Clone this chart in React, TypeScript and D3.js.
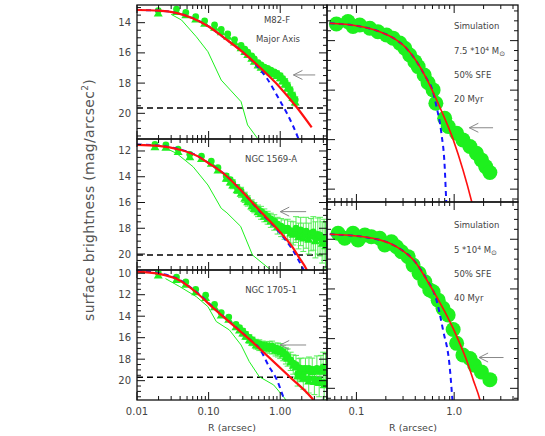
import * as d3 from 'd3';

type P = [number, number];
type PE = [number, number, number];

// ---- observed clusters: R (arcsec), mag/arcsec^2, error ----
const m82Pts: PE[] = [
  [0.0198, 13.3, 0], [0.0356, 13.2, 0], [0.048, 13.42, 0], [0.066, 13.7, 0], [0.088, 13.98, 0],
  [0.121, 14.25, 0.05], [0.15, 14.55, 0.05], [0.185, 14.85, 0.05], [0.23, 15.22, 0.08], [0.284, 15.6, 0.1],
  [0.32, 15.85, 0.1], [0.352, 16.05, 0.12], [0.4, 16.3, 0.12], [0.435, 16.5, 0.15], [0.49, 16.75, 0.15],
  [0.54, 16.9, 0.15], [0.6, 17.05, 0.2], [0.667, 17.13, 0.2], [0.74, 17.25, 0.2], [0.826, 17.35, 0.2],
  [0.9, 17.45, 0.25], [1.0, 17.6, 0.25], [1.08, 17.8, 0.25], [1.17, 18.0, 0.3], [1.27, 18.25, 0.3],
  [1.38, 18.55, 0.3], [1.5, 18.9, 0.3], [1.62, 19.2, 0.3],
];
const n1569Pts: PE[] = [
  [0.0178, 11.6, 0.05], [0.0253, 11.65, 0.05], [0.0375, 11.98, 0.05], [0.0546, 12.38, 0.08], [0.0795, 12.52, 0.1],
  [0.109, 12.9, 0.12], [0.135, 13.42, 0.2], [0.176, 14.05, 0.3], [0.2, 14.35, 0.3], [0.217, 14.58, 0.35],
  [0.25, 14.95, 0.35], [0.284, 15.22, 0.4], [0.32, 15.6, 0.4], [0.352, 15.88, 0.4], [0.4, 16.2, 0.4],
  [0.435, 16.4, 0.4], [0.49, 16.65, 0.45], [0.54, 16.8, 0.5], [0.6, 17.0, 0.5], [0.667, 17.18, 0.5],
  [0.74, 17.38, 0.55], [0.826, 17.55, 0.6], [0.92, 17.8, 0.65], [1.03, 17.95, 0.7], [1.15, 18.1, 0.75],
  [1.27, 18.1, 0.8], [1.4, 18.3, 0.85], [1.52, 18.4, 0.9], [1.66, 18.1, 1.0], [1.8, 18.6, 1.0],
  [1.93, 18.25, 1.1], [2.1, 18.7, 1.1], [2.3, 18.35, 1.2], [2.5, 18.8, 1.2], [2.7, 18.5, 1.25],
  [2.9, 18.4, 1.3], [3.1, 18.9, 1.4], [3.35, 18.6, 1.4], [3.6, 18.65, 1.5], [3.85, 19.1, 1.6],
  [4.1, 18.9, 1.6], [4.3, 19.3, 1.8],
];
const n1705Pts: PE[] = [
  [0.0198, 10.1, 0.05], [0.0356, 10.5, 0.05], [0.048, 10.95, 0.05], [0.066, 11.65, 0.08], [0.0909, 12.18, 0.1],
  [0.121, 13.05, 0.15], [0.15, 13.82, 0.2], [0.191, 14.22, 0.25], [0.241, 14.9, 0.3], [0.27, 15.2, 0.3],
  [0.3, 15.5, 0.35], [0.33, 15.8, 0.35], [0.37, 16.12, 0.4], [0.41, 16.35, 0.4], [0.46, 16.6, 0.45],
  [0.51, 16.7, 0.5], [0.57, 16.82, 0.5], [0.64, 16.85, 0.5], [0.71, 16.9, 0.55], [0.77, 16.92, 0.6],
  [0.86, 17.1, 0.6], [0.93, 17.15, 0.65], [1.0, 17.25, 0.7], [1.1, 17.45, 0.7], [1.2, 17.7, 0.75],
  [1.27, 17.85, 0.8], [1.4, 18.2, 0.85], [1.52, 18.5, 0.9], [1.66, 18.65, 1.0], [1.75, 19.5, 1.0],
  [1.85, 18.95, 1.0], [1.93, 19.0, 1.1], [2.1, 19.7, 1.1], [2.25, 19.0, 1.1], [2.5, 19.95, 1.2],
  [2.52, 19.0, 1.2], [2.8, 19.1, 1.2], [3.0, 20.0, 1.3], [3.25, 19.0, 1.3], [3.5, 20.1, 1.4],
  [3.7, 19.05, 1.4], [3.98, 18.85, 1.5], [4.1, 20.3, 1.5], [4.3, 19.0, 1.6],
];

// ---- model curves ----
const m82Red: P[] = [[0.01, 13.16], [0.02, 13.2], [0.035, 13.35], [0.06, 13.7], [0.1, 14.25], [0.17, 15.05], [0.3, 15.95], [0.53, 17.0], [1.0, 18.3], [1.7, 19.6], [2.75, 20.93]];
const m82Blue: P[] = [[0.01, 13.16], [0.02, 13.2], [0.035, 13.35], [0.06, 13.7], [0.1, 14.25], [0.17, 15.05], [0.3, 15.95], [0.45, 16.75], [0.65, 17.68], [1.0, 19.2], [1.24, 20.0], [1.8, 21.7], [1.9, 22.0]];
const m82Green: P[] = [[0.03, 13.45], [0.0418, 13.82], [0.0673, 14.93], [0.0978, 15.92], [0.15, 17.8], [0.284, 19.23], [0.35, 20.77], [0.48, 21.65], [0.52, 21.9]];

const n1569Red: P[] = [[0.01, 11.53], [0.02, 11.6], [0.04, 11.9], [0.07, 12.4], [0.1, 12.95], [0.16, 13.73], [0.3, 15.2], [0.5, 16.55], [1.0, 18.3], [1.5, 19.5], [1.8, 20.2], [2.35, 21.24], [2.5, 21.6]];
const n1569Blue: P[] = [[0.01, 11.5], [0.02, 11.58], [0.04, 11.88], [0.07, 12.38], [0.1, 12.93], [0.16, 13.72], [0.3, 15.2], [0.5, 16.6], [1.0, 18.4], [1.5, 19.7], [2.2, 21.4]];
const n1569Green: P[] = [[0.028, 11.9], [0.0356, 12.18], [0.0606, 13.22], [0.0978, 14.64], [0.15, 16.45], [0.18, 16.8], [0.28, 17.85], [0.41, 20.08], [0.74, 21.24], [0.8, 21.4]];

const n1705Red: P[] = [[0.01, 9.85], [0.02, 10.05], [0.035, 10.5], [0.065, 11.7], [0.117, 13.25], [0.38, 16.21], [1.35, 19.63], [2.7, 21.55], [2.9, 21.8]];
const n1705Blue: P[] = [[0.01, 9.78], [0.02, 10.0], [0.035, 10.45], [0.065, 11.65], [0.117, 13.2], [0.38, 16.2], [0.51, 16.98], [0.7, 18.7], [0.9, 19.93], [1.11, 21.55], [1.15, 21.8]];
const n1705Green: P[] = [[0.025, 10.5], [0.0396, 11.25], [0.0673, 12.18], [0.0978, 13.11], [0.128, 14.5], [0.195, 15.28], [0.284, 16.68], [0.37, 18.23], [0.51, 19.63], [0.81, 20.4], [1.11, 21.49], [1.2, 21.8]];

// ---- simulations ----
const sim20Pts: P[] = [
  [0.0624, 13.33], [0.082, 13.23], [0.0923, 13.43], [0.108, 13.37], [0.137, 13.5], [0.166, 13.64], [0.203, 13.77],
  [0.237, 13.9], [0.278, 14.1], [0.313, 14.31], [0.351, 14.58], [0.396, 14.85], [0.428, 15.05], [0.493, 15.39],
  [0.541, 15.7], [0.609, 15.99], [0.65, 16.53], [0.8, 17.14], [0.87, 17.47], [1.06, 17.74], [1.23, 18.01],
  [1.45, 18.28], [1.69, 18.55], [1.9, 18.82], [2.1, 19.09], [2.32, 19.33],
];
const sim20Red: P[] = [[0.0533, 13.3], [0.1, 13.4], [0.173, 13.64], [0.24, 13.9], [0.325, 14.31], [0.52, 15.52], [0.71, 16.67], [0.98, 18.01], [1.23, 19.22], [1.51, 20.5], [1.6, 20.9]];
const sim20Blue: P[] = [[0.0533, 13.3], [0.1, 13.4], [0.173, 13.64], [0.24, 13.9], [0.325, 14.31], [0.52, 15.52], [0.6, 16.0], [0.66, 16.67], [0.74, 17.74], [0.8, 19.09], [0.83, 20.5], [0.84, 20.9]];

const sim40Pts: P[] = [
  [0.0649, 13.76], [0.0759, 13.96], [0.0923, 13.76], [0.104, 14.03], [0.122, 13.83], [0.142, 13.9], [0.173, 13.96],
  [0.195, 14.23], [0.228, 14.1], [0.257, 14.3], [0.289, 14.5], [0.338, 14.7], [0.38, 15.04], [0.438, 15.37],
  [0.501, 15.71], [0.563, 16.04], [0.609, 16.11], [0.686, 16.45], [0.77, 16.78], [0.868, 17.05], [0.977, 17.63],
  [1.06, 18.19], [1.23, 18.66], [1.45, 18.8], [1.62, 19.07], [1.9, 19.34], [2.32, 19.65],
];
const sim40Red: P[] = [[0.0533, 13.8], [0.117, 13.9], [0.257, 14.3], [0.41, 14.97], [0.501, 15.51], [0.66, 16.31], [0.836, 17.05], [0.977, 17.59], [1.14, 18.19], [1.34, 18.87], [1.57, 19.67], [1.84, 20.48], [1.9, 20.7]];
const sim40Blue: P[] = [[0.0533, 13.8], [0.117, 13.9], [0.257, 14.3], [0.41, 14.97], [0.52, 15.6], [0.66, 16.45], [0.77, 17.66], [0.9, 19.13], [0.96, 20.47], [0.97, 20.7]];

// limiting surface brightness, arrows [R start, R end, mag]
const limits = [19.65, 20.08, 19.68];
const arrowsLeft: [number, number, number][] = [[1.53, 3.08, 17.46], [1.0, 2.3, 16.71], [1.0, 2.3, 16.68]];
const arrowsRight: [number, number, number][] = [[1.43, 2.5, 17.52], [1.8, 3.2, 18.76]];

const GREEN = '#1ef01e';
const GREEN_ERR = '#55ee55';
const RED = '#ff1010';
const BLUE = '#1515ff';
const FONT = 'DejaVu Sans, sans-serif';
const TXT = '#444';

interface PanelProps {
  id: string;
  x0: number; x1: number; y0: number; y1: number;
  rDom: [number, number];
  mDom: [number, number];
  minorStep: number;
  yLabels: boolean;
  xLabels?: (v: number) => string;
  bells?: PE[];
  dots?: P[];
  red: P[];
  blue: P[];
  green?: P[];
  limit?: number;
  arrow: [number, number, number];
  redWidth: number;
  children?: any;
}

function Panel(p: PanelProps) {
  const x = d3.scaleLog().domain(p.rDom).range([p.x0, p.x1]);
  const y = d3.scaleLinear().domain(p.mDom).range([p.y0, p.y1]);
  const smooth = d3.line<P>().x(d => x(d[0])).y(d => y(d[1])).curve(d3.curveMonotoneX);
  const straight = d3.line<P>().x(d => x(d[0])).y(d => y(d[1]));

  const xt = x.ticks(20).filter(v => v >= p.rDom[0] * 0.999 && v <= p.rDom[1]);
  const isMajor = (v: number) => Math.abs(Math.log10(v) - Math.round(Math.log10(v))) < 1e-6;
  const yMaj = d3.range(Math.ceil(p.mDom[0] / 2) * 2, p.mDom[1] + 1e-6, 2);
  const yMin = d3.range(Math.ceil(p.mDom[0] / p.minorStep) * p.minorStep, p.mDom[1], p.minorStep)
    .filter(v => Math.abs(v / 2 - Math.round(v / 2)) > 1e-6);

  const [ar0, ar1, am] = p.arrow;
  const ax = x(ar0), ay = y(am);

  return (
    <g>
      <defs>
        <clipPath id={p.id}>
          <rect x={p.x0} y={p.y0} width={p.x1 - p.x0} height={p.y1 - p.y0} />
        </clipPath>
      </defs>
      <g clipPath={`url(#${p.id})`}>
        {p.limit !== undefined && (
          <line x1={p.x0} x2={p.x1} y1={y(p.limit)} y2={y(p.limit)} stroke="#000" strokeWidth={1.6} strokeDasharray="6,4" />
        )}
        {p.green && <path d={straight(p.green) ?? ''} fill="none" stroke={GREEN} strokeWidth={1} />}
        {p.bells && p.bells.map((d, i) => d[2] > 0.15 ? (
          <g key={'e' + i} stroke={GREEN_ERR} strokeWidth={1}>
            <line x1={x(d[0])} x2={x(d[0])} y1={y(d[1] - d[2])} y2={y(d[1] + d[2])} />
            <line x1={x(d[0]) - 3} x2={x(d[0]) + 3} y1={y(d[1] + d[2])} y2={y(d[1] + d[2])} />
            <line x1={x(d[0]) - 3} x2={x(d[0]) + 3} y1={y(d[1] - d[2])} y2={y(d[1] - d[2])} />
          </g>
        ) : null)}
        {p.bells && p.bells.map((d, i) => (
          <g key={'b' + i} transform={`translate(${x(d[0])},${y(d[1])})`} fill={GREEN}>
            <path d="M0,-3L-4.5,4.3L4.5,4.3Z" />
            <circle cx={0} cy={-1.5} r={3.4} />
          </g>
        ))}
        {p.dots && p.dots.map((d, i) => (
          <circle key={'d' + i} cx={x(d[0])} cy={y(d[1])} r={7.5} fill={GREEN} />
        ))}
        <path d={smooth(p.blue) ?? ''} fill="none" stroke={BLUE} strokeWidth={2} strokeDasharray="5,4" />
        <path d={smooth(p.red) ?? ''} fill="none" stroke={RED} strokeWidth={p.redWidth} />
      </g>
      <g stroke="#888" strokeWidth={1} fill="none">
        <line x1={ax} x2={x(ar1)} y1={ay} y2={ay} />
        <path d={`M${ax + 9},${ay - 4.5}L${ax},${ay}L${ax + 9},${ay + 4.5}`} />
      </g>
      {p.children}
      <rect x={p.x0} y={p.y0} width={p.x1 - p.x0} height={p.y1 - p.y0} fill="none" stroke="#111" strokeWidth={1.3} />
      <g stroke="#111" strokeWidth={1}>
        {xt.map((v, i) => {
          const len = isMajor(v) ? 8 : 4;
          return (
            <g key={'xt' + i}>
              <line x1={x(v)} x2={x(v)} y1={p.y1} y2={p.y1 - len} />
              <line x1={x(v)} x2={x(v)} y1={p.y0} y2={p.y0 + len} />
            </g>
          );
        })}
        {yMaj.map((v, i) => (
          <g key={'ym' + i}>
            <line x1={p.x0} x2={p.x0 + 8} y1={y(v)} y2={y(v)} />
            <line x1={p.x1} x2={p.x1 - 8} y1={y(v)} y2={y(v)} />
          </g>
        ))}
        {yMin.map((v, i) => (
          <g key={'yn' + i}>
            <line x1={p.x0} x2={p.x0 + 4} y1={y(v)} y2={y(v)} />
            <line x1={p.x1} x2={p.x1 - 4} y1={y(v)} y2={y(v)} />
          </g>
        ))}
      </g>
      {p.yLabels && yMaj.map((v, i) => (
        <text key={'yl' + i} x={p.x0 - 6} y={y(v) + 3.5} textAnchor="end" fontSize={10} fill={TXT} fontFamily={FONT}>{v}</text>
      ))}
      {p.xLabels && xt.filter(isMajor).map((v, i) => (
        <text key={'xl' + i} x={x(v)} y={p.y1 + 15} textAnchor="middle" fontSize={10} fill={TXT} fontFamily={FONT}>{p.xLabels!(v)}</text>
      ))}
    </g>
  );
}

function SimLabel({ x, y, mass, age }: { x: number; y: number; mass: string; age: string }) {
  const s = { fontSize: 8.5, fill: TXT, fontFamily: FONT };
  return (
    <g>
      <text x={x} y={y} {...s}>Simulation</text>
      <text x={x} y={y + 25} {...s}>
        {mass} *10<tspan dy={-3} fontSize={6}>4</tspan><tspan dy={3}> M</tspan><tspan dy={2} fontSize={7}>⊙</tspan>
      </text>
      <text x={x} y={y + 49} {...s}>50% SFE</text>
      <text x={x} y={y + 73} {...s}>{age}</text>
    </g>
  );
}

export default function App() {
  const L = { x0: 137, x1: 327, rDom: [0.01, 4.5] as [number, number] };
  const R = { x0: 327, x1: 518, rDom: [0.05, 4.5] as [number, number] };
  const lab = { fontSize: 8.5, fill: TXT, fontFamily: FONT, textAnchor: 'middle' as const };
  return (
    <svg width={545} height={436} style={{ position: 'absolute', left: 0, top: 0, background: '#fff' }}>
      <Panel id="c1" {...L} y0={5} y1={139} mDom={[12.83, 21.7]} minorStep={0.5} yLabels
        bells={m82Pts} red={m82Red} blue={m82Blue} green={m82Green} limit={limits[0]} arrow={arrowsLeft[0]} redWidth={2.2}>
        <text x={277} y={23} {...lab}>M82-F</text>
        <text x={278} y={42} {...lab}>Major Axis</text>
      </Panel>
      <Panel id="c2" {...L} y0={139} y1={270} mDom={[11.07, 21.24]} minorStep={0.5} yLabels
        bells={n1569Pts} red={n1569Red} blue={n1569Blue} green={n1569Green} limit={limits[1]} arrow={arrowsLeft[1]} redWidth={2.2}>
        <text x={271} y={161.5} {...lab}>NGC 1569-A</text>
      </Panel>
      <Panel id="c3" {...L} y0={270} y1={400} mDom={[9.7, 21.8]} minorStep={0.5} yLabels
        xLabels={v => v.toFixed(2)}
        bells={n1705Pts} red={n1705Red} blue={n1705Blue} green={n1705Green} limit={limits[2]} arrow={arrowsLeft[2]} redWidth={2.2}>
        <text x={271} y={292.5} {...lab}>NGC 1705-1</text>
      </Panel>
      <Panel id="c4" {...R} y0={5} y1={202} mDom={[12.56, 20.52]} minorStep={0.4} yLabels={false}
        dots={sim20Pts} red={sim20Red} blue={sim20Blue} arrow={arrowsRight[0]} redWidth={1.6}>
        <SimLabel x={454} y={29} mass="7.5" age="20 Myr" />
      </Panel>
      <Panel id="c5" {...R} y0={202} y1={400} mDom={[12.5, 20.47]} minorStep={0.4} yLabels={false}
        xLabels={v => v.toFixed(1)}
        dots={sim40Pts} red={sim40Red} blue={sim40Blue} arrow={arrowsRight[1]} redWidth={1.6}>
        <SimLabel x={454} y={227.5} mass="5" age="40 Myr" />
      </Panel>
      <text x={232} y={431} textAnchor="middle" fontSize={9.5} fill={TXT} fontFamily={FONT}>R (arcsec)</text>
      <text x={413} y={431} textAnchor="middle" fontSize={9.5} fill={TXT} fontFamily={FONT}>R (arcsec)</text>
      <text transform="translate(94,200) rotate(-90)" textAnchor="middle" fontSize={14} fill="#555" fontFamily={FONT} letterSpacing={0.3}>
        surface brightness (mag/arcsec<tspan dy={-6} fontSize={9}>2</tspan><tspan dy={6}>)</tspan>
      </text>
    </svg>
  );
}
